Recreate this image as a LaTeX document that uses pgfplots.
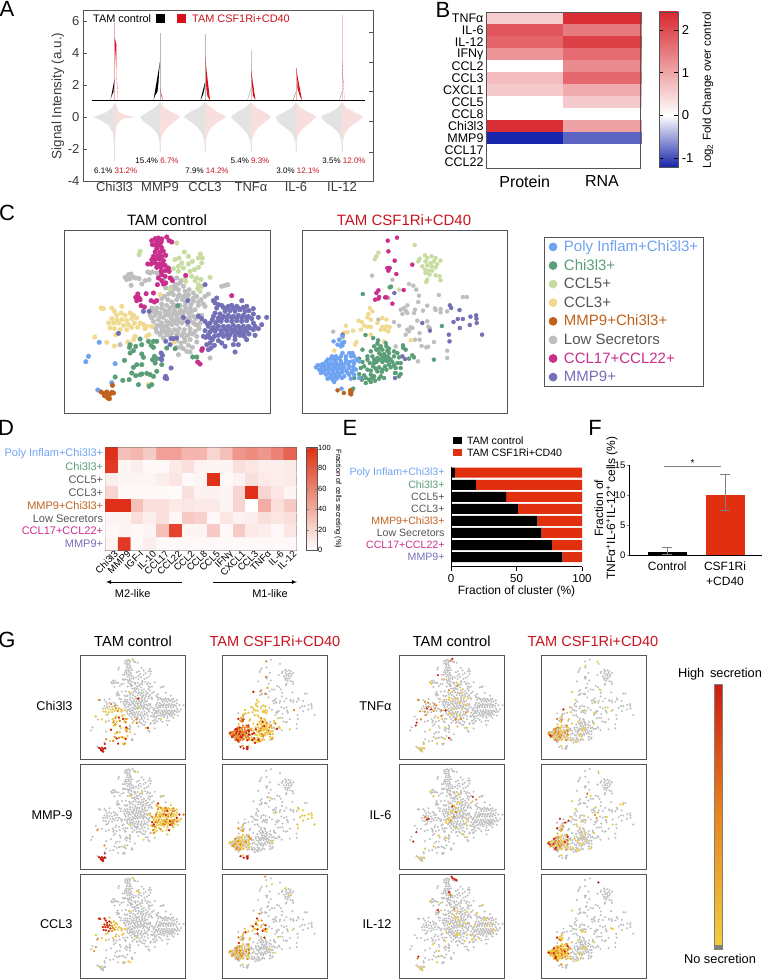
\documentclass[border=0pt]{standalone}
\usepackage{fontspec}
\setmainfont{Liberation Sans}
\usepackage{pgfplots}
\usepackage{pgfplotstable}
\pgfplotsset{compat=1.18}
\newcommand{\fs}[1]{\fontsize{#1}{#1}\selectfont}

\definecolor{cpoly}{HTML}{6FA3F2}
\definecolor{cchi}{HTML}{5A9E78}
\definecolor{cfive}{HTML}{C8DCA2}
\definecolor{cthree}{HTML}{F0DA90}
\definecolor{cmc}{HTML}{C0621E}
\definecolor{clow}{HTML}{BEBEBE}
\definecolor{cseven}{HTML}{C92E8C}
\definecolor{cmmp}{HTML}{7470B8}
\definecolor{tred}{HTML}{C8141E}
\definecolor{fred}{HTML}{E03010}
\definecolor{lgray}{HTML}{E3E3E3}
\definecolor{lpink}{HTML}{F9DEDE}
\definecolor{vred}{HTML}{D8101A}
\definecolor{frame}{HTML}{555555}
\definecolor{txt}{HTML}{555555}
\definecolor{hgold}{HTML}{F3CC3C}
\definecolor{horange}{HTML}{E8861E}
\definecolor{hred}{HTML}{CE1C10}

\pgfplotsset{
  colormap={bwr}{rgb255(0cm)=(24,36,170); rgb255(1.21cm)=(255,255,255); rgb255(3.63cm)=(216,40,48)},
  colormap={wr}{rgb255(0cm)=(255,255,255); rgb255(1cm)=(224,48,26)},
  panel/.style n args={4}{at={(#1pt,-#2pt)},anchor=north west,scale only axis,width=#3pt,height=#4pt,
    /pgf/number format/assume math mode=true,axis line style={draw=frame,line width=0.9pt}},
  dot/.style 2 args={only marks,mark=*,mark size=#2,color=#1,mark options={solid,draw=none,fill=#1},forget plot},
  tsne/.style={xmin=8,xmax=625,ymin=6,ymax=555,y dir=reverse,xtick=\empty,ytick=\empty},
}

% t-SNE positions, control
\pgfplotstableread[row sep=\\]{x y\\
270 38\\ 280 32\\ 290 30\\ 300 33\\ 315 27\\ 322 38\\ 330 42\\ 285 42\\ 298 42\\ 272 50\\ 282 52\\ 295 52\\ 300 60\\ 285 62\\ 280 72\\ 295 72\\
305 70\\ 275 85\\ 288 83\\ 300 85\\ 312 82\\ 270 95\\ 280 95\\ 292 93\\ 305 98\\ 258 108\\ 268 108\\ 280 105\\ 292 108\\ 302 105\\ 285 118\\ 298 118\\
310 112\\ 320 120\\ 310 128\\ 298 130\\ 322 130\\ 300 140\\ 290 150\\ 310 145\\ 325 150\\ 332 158\\ 300 158\\ 312 165\\ 305 168\\ 372 142\\ 253 197\\
287 170\\ 275 195\\ 228 198\\ 222 208\\ 232 210\\ 225 218\\ 235 215\\ 268 218\\ 278 222\\ 285 218\\ 238 233\\ 248 237\\ 510 203\\ 422 362\\ 420 367\\ 408 402\\ 415 408\\
}\cSeven
\pgfplotstableread[row sep=\\]{x y\\
190 148\\ 200 140\\ 208 138\\ 215 148\\ 205 152\\ 222 150\\ 232 152\\ 195 155\\ 208 172\\ 240 168\\ 250 158\\ 262 155\\ 258 132\\ 285 135\\ 272 132\\
345 170\\ 355 165\\ 365 175\\ 350 185\\ 340 182\\ 330 190\\ 320 198\\ 308 205\\ 300 212\\ 318 215\\ 335 200\\ 352 200\\ 370 190\\ 382 185\\ 395 195\\ 405 205\\
418 215\\ 430 205\\ 440 198\\ 425 228\\ 410 232\\ 395 220\\ 380 215\\ 362 215\\ 345 215\\ 330 222\\ 315 232\\ 300 228\\ 285 240\\ 275 250\\ 265 262\\ 280 262\\
295 255\\ 310 248\\ 325 240\\ 340 238\\ 355 232\\ 370 235\\ 385 240\\ 400 245\\ 380 255\\ 365 252\\ 350 255\\ 335 258\\ 320 262\\ 305 268\\ 290 275\\ 275 280\\
285 292\\ 300 285\\ 315 280\\ 330 275\\ 345 272\\ 360 268\\ 378 272\\ 395 265\\ 410 262\\ 300 300\\ 315 295\\ 330 290\\ 345 288\\ 360 285\\ 378 290\\ 395 285\\
410 295\\ 285 312\\ 295 320\\ 308 310\\ 322 305\\ 338 305\\ 352 302\\ 368 305\\ 385 302\\ 400 310\\ 412 302\\ 345 320\\ 360 322\\ 378 322\\ 392 318\\ 305 330\\
325 325\\ 345 338\\ 358 345\\ 370 340\\ 380 352\\ 392 358\\ 405 342\\ 365 362\\ 375 370\\ 385 372\\ 350 380\\ 445 390\\ 175 350\\ 480 175\\ 490 172\\ 498 170\\
330 150\\ 345 150\\ 358 158\\ 312 180\\ 265 135\\ 430 235\\ 305 158\\ 290 140\\ 270 240\\
350 205\\ 365 205\\ 380 200\\ 395 210\\ 410 222\\ 372 225\\ 388 230\\ 335 230\\ 322 250\\ 338 248\\ 355 245\\ 372 245\\ 390 250\\ 300 240\\ 285 252\\ 270 270\\ 295 265\\
312 258\\ 328 268\\ 345 262\\ 362 258\\ 385 265\\ 402 272\\ 420 262\\ 282 302\\ 292 292\\ 308 295\\ 322 285\\ 338 282\\ 352 278\\ 368 278\\ 385 278\\ 402 290\\ 415 285\\
300 312\\ 315 312\\ 330 315\\ 348 312\\ 365 315\\ 385 315\\ 405 325\\ 315 320\\ 368 330\\ 385 335\\ 358 358\\ 345 358\\ 328 178\\ 340 170\\ 370 205\\
}\cLow
\pgfplotstableread[row sep=\\]{x y\\
235 70\\ 232 80\\ 345 45\\ 340 95\\ 352 90\\ 368 72\\ 380 85\\ 360 105\\ 350 115\\ 335 122\\ 365 120\\ 380 108\\ 392 100\\ 410 90\\ 416 78\\ 422 90\\ 420 105\\
410 118\\ 398 125\\ 385 130\\ 370 150\\ 390 145\\ 405 150\\ 418 155\\ 445 148\\ 400 158\\ 410 170\\ 420 175\\ 408 182\\ 415 190\\ 372 160\\ 325 182\\ 350 130\\
}\cFive
\pgfplotstableread[row sep=\\]{x y\\
118 240\\ 125 242\\ 150 240\\ 158 250\\ 180 235\\ 165 262\\ 178 255\\ 190 262\\ 205 255\\ 215 262\\ 150 272\\ 165 275\\ 180 275\\ 195 278\\ 210 272\\ 225 270\\
140 285\\ 155 285\\ 170 285\\ 185 292\\ 200 290\\ 218 285\\ 235 285\\ 145 300\\ 158 302\\ 175 305\\ 195 305\\ 210 298\\ 228 298\\ 245 290\\ 255 295\\ 270 295\\
250 302\\ 162 320\\ 220 325\\ 215 335\\ 255 325\\ 262 320\\ 99 327\\ 135 343\\ 158 354\\ 198 342\\ 338 342\\ 295 200\\ 260 470\\
}\cThree
\pgfplotstableread[row sep=\\]{x y\\
465 210\\ 455 218\\ 460 225\\ 480 232\\ 470 230\\ 495 240\\ 510 232\\ 525 235\\ 540 218\\ 555 235\\ 575 242\\ 490 250\\ 505 248\\ 520 250\\ 535 245\\ 550 250\\
460 255\\ 475 258\\ 455 265\\ 470 270\\ 485 265\\ 500 262\\ 515 265\\ 530 262\\ 545 262\\ 560 265\\ 590 268\\ 615 268\\ 410 265\\ 420 272\\ 430 280\\ 445 285\\
462 285\\ 478 280\\ 495 278\\ 510 280\\ 525 278\\ 540 280\\ 555 278\\ 575 285\\ 440 295\\ 455 298\\ 470 295\\ 485 295\\ 500 295\\ 515 292\\ 530 295\\ 545 295\\
560 295\\ 600 290\\ 590 302\\ 575 305\\ 430 308\\ 445 312\\ 460 310\\ 478 308\\ 495 310\\ 510 308\\ 525 312\\ 540 310\\ 555 310\\ 470 322\\ 485 325\\ 505 320\\
520 325\\ 535 322\\ 548 325\\ 580 322\\ 425 325\\ 432 328\\ 470 338\\ 445 345\\ 435 350\\ 458 352\\ 448 360\\ 440 365\\ 490 355\\ 515 350\\ 530 350\\ 555 335\\ 520 372\\
465 240\\ 485 238\\ 500 235\\ 515 240\\ 530 240\\ 545 238\\ 562 248\\ 575 258\\ 480 272\\ 495 268\\ 510 270\\ 525 270\\ 540 270\\ 555 270\\ 570 272\\ 452 275\\ 468 278\\ 438 290\\
450 305\\ 465 302\\ 490 302\\ 505 302\\ 520 302\\ 535 303\\ 550 303\\ 565 300\\ 580 295\\ 445 330\\ 458 325\\ 480 315\\ 495 318\\ 515 312\\ 530 315\\ 545 315\\ 562 318\\ 500 330\\ 440 320\\ 452 335\\ 520 335\\ 480 345\\
}\cMmp
\pgfplotstableread[row sep=\\]{x y\\
378 218\\ 430 170\\ 365 268\\ 378 282\\ 170 316\\ 245 250\\ 262 250\\ 345 330\\ 335 332\\ 328 332\\ 312 340\\ 325 350\\ 298 375\\ 302 382\\ 297 392\\ 328 420\\ 312 445\\ 315 452\\ 310 450\\ 300 395\\
}\cMmpB
\pgfplotstableread[row sep=\\]{x y\\
348 233\\ 205 350\\ 203 358\\ 222 355\\ 240 350\\ 235 333\\ 215 368\\ 205 375\\ 240 378\\ 245 388\\ 260 340\\ 268 352\\ 275 340\\ 285 340\\ 275 358\\ 278 385\\ 285 392\\
272 395\\ 280 405\\ 300 410\\ 188 397\\ 240 410\\ 225 410\\ 215 418\\ 210 435\\ 222 443\\ 235 440\\ 240 438\\ 255 436\\ 265 440\\ 275 445\\ 285 430\\ 160 447\\ 183 457\\
202 455\\ 230 470\\ 270 470\\ 315 360\\ 340 362\\ 393 387\\ 405 387\\ 262 475\\
}\cChi
\pgfplotstableread[row sep=\\]{x y\\
112 343\\ 80 385\\ 72 401\\ 160 407\\ 150 464\\ 108 486\\
}\cPoly
\pgfplotstableread[row sep=\\]{x y\\
118 492\\ 127 497\\ 135 492\\ 150 493\\ 155 495\\ 128 503\\ 135 505\\ 143 500\\ 138 510\\ 143 512\\ 152 472\\
}\cMc

% t-SNE positions, CSF1Ri+CD40
\pgfplotstableread[row sep=\\]{x y\\
266 38\\ 294 29\\ 268 70\\ 287 98\\ 340 110\\ 265 120\\ 272 120\\ 268 128\\ 292 138\\ 238 187\\ 232 195\\ 240 207\\ 228 215\\ 238 212\\ 258 208\\ 262 208\\ 280 227\\ 314 186\\
}\tSeven
\pgfplotstableread[row sep=\\]{x y\\
347 51\\ 238 74\\ 232 85\\ 227 94\\ 300 185\\ 378 82\\ 362 92\\ 358 100\\ 385 90\\ 398 85\\ 410 90\\ 425 98\\ 415 108\\ 405 100\\ 395 105\\ 380 100\\ 370 115\\ 385 112\\
398 115\\ 410 118\\ 378 125\\ 390 128\\ 380 135\\ 392 140\\ 410 142\\ 422 145\\ 385 155\\ 382 162\\ 425 157\\ 400 128\\
}\tFive
\pgfplotstableread[row sep=\\]{x y\\
219 143\\ 280 155\\ 330 168\\ 343 173\\ 352 185\\ 360 203\\ 420 201\\ 492 207\\ 504 207\\ 268 210\\ 358 222\\ 325 232\\ 315 240\\ 305 245\\ 320 248\\ 310 258\\ 325 255\\
348 245\\ 345 255\\ 372 248\\ 385 233\\ 408 241\\ 410 246\\ 425 243\\ 425 253\\ 445 250\\ 238 275\\ 285 282\\ 300 293\\ 355 278\\ 385 280\\ 388 296\\ 335 298\\ 325 305\\
340 300\\ 320 320\\ 362 315\\ 392 300\\ 348 335\\ 362 335\\ 405 342\\ 368 354\\ 382 358\\ 388 356\\ 445 368\\ 445 390\\ 357 400\\ 290 355\\ 102 311\\ 330 310\\
}\tLow
\pgfplotstableread[row sep=\\]{x y\\
212 240\\ 220 250\\ 208 258\\ 205 268\\ 215 275\\ 178 278\\ 188 282\\ 195 293\\ 205 296\\ 215 297\\ 185 305\\ 250 270\\ 262 275\\ 235 285\\ 250 297\\ 262 295\\ 272 297\\
258 305\\ 245 305\\ 268 310\\ 140 293\\ 145 312\\ 135 314\\ 162 308\\ 215 320\\ 172 342\\ 168 350\\ 255 340\\ 335 337\\ 130 330\\ 105 368\\
}\tThree
\pgfplotstableread[row sep=\\]{x y\\
453 232\\ 457 240\\ 482 246\\ 515 266\\ 532 262\\ 533 272\\ 534 285\\ 477 273\\ 492 273\\ 464 282\\ 513 291\\ 483 300\\ 550 320\\ 450 320\\ 452 340\\ 370 285\\ 393 308\\ 286 195\\ 310 385\\ 318 393\\ 288 450\\ 130 320\\
}\tMmp
\pgfplotstableread[row sep=\\]{x y\\
191 198\\ 272 178\\ 276 176\\ 429 294\\ 199 321\\ 222 330\\ 237 337\\ 235 347\\ 225 355\\ 245 355\\ 260 345\\ 262 355\\ 270 362\\ 250 365\\ 232 365\\ 215 370\\ 190 365\\ 240 375\\
255 378\\ 270 375\\ 285 370\\ 295 375\\ 312 352\\ 313 360\\ 320 365\\ 340 382\\ 345 388\\ 330 392\\ 405 395\\ 220 385\\ 235 390\\ 250 390\\ 268 388\\ 285 385\\ 300 388\\ 180 392\\
205 395\\ 190 402\\ 212 405\\ 232 402\\ 250 402\\ 265 400\\ 280 402\\ 295 405\\ 305 405\\ 185 420\\ 205 425\\ 222 415\\ 240 418\\ 258 415\\ 275 418\\ 290 420\\ 305 420\\ 180 438\\
195 442\\ 215 440\\ 235 430\\ 248 432\\ 262 425\\ 288 435\\ 300 445\\ 305 438\\ 188 455\\ 200 465\\ 215 462\\ 210 455\\ 228 458\\ 240 452\\ 255 450\\ 165 450\\ 162 482\\ 290 435\\ 185 450\\
205 385\\ 225 395\\ 245 380\\ 260 385\\ 275 395\\ 225 405\\ 240 395\\ 258 395\\ 195 415\\ 215 428\\ 230 422\\ 250 425\\ 270 410\\ 285 412\\ 225 445\\ 245 445\\ 200 450\\ 220 450\\ 265 368\\ 240 362\\
}\tChi
\pgfplotstableread[row sep=\\]{x y\\
103 340\\ 120 335\\ 130 325\\ 115 350\\ 128 345\\ 135 342\\ 125 355\\ 130 352\\ 95 392\\ 110 390\\ 130 375\\ 150 375\\ 160 375\\ 155 385\\ 165 385\\ 80 402\\ 95 405\\ 110 402\\
125 400\\ 140 395\\ 160 400\\ 172 395\\ 62 412\\ 75 415\\ 90 415\\ 105 415\\ 118 412\\ 132 410\\ 148 412\\ 162 415\\ 50 418\\ 60 425\\ 75 428\\ 88 428\\ 102 428\\ 115 425\\ 128 425\\
142 428\\ 160 428\\ 170 425\\ 65 435\\ 80 440\\ 95 442\\ 108 440\\ 122 438\\ 150 440\\ 165 440\\ 85 452\\ 100 455\\ 112 452\\ 128 450\\ 105 462\\ 155 452\\ 180 450\\ 127 482\\ 180 400\\
85 395\\ 105 395\\ 120 392\\ 140 385\\ 165 405\\ 70 408\\ 85 408\\ 100 408\\ 112 408\\ 125 408\\ 140 405\\ 150 402\\ 55 412\\ 68 422\\ 82 422\\ 95 422\\ 108 420\\ 122 418\\ 135 418\\
150 420\\ 165 422\\ 72 432\\ 88 435\\ 102 435\\ 115 432\\ 130 432\\ 145 435\\ 158 432\\ 92 448\\ 105 448\\ 118 445\\ 135 445\\ 110 385\\ 98 385\\ 125 385\\
}\tPoly
\pgfplotstableread[row sep=\\]{x y\\
115 487\\ 134 495\\ 153 487\\ 157 491\\ 153 497\\ 156 499\\
}\tMc

% half violin: centre, side, colour, rows of y and half width
\newcommand{\vio}[4]{\addplot[fill=#3,draw=none,forget plot] table[row sep=\\,x expr=#1+#2*\thisrow{w},y=y]{y w\\ #4} -- cycle;}
% thin tail of a violin
\newcommand{\tail}[4]{\addplot[draw=#4,line width=0.5pt,forget plot] coordinates {(#1,#2) (#1,#3)};}

\newcommand{\gbaseC}{%
  \addplot[dot={clow}{0.78}] table {\cLow};\addplot[dot={clow}{0.78}] table {\cSeven};
  \addplot[dot={clow}{0.78}] table {\cFive};\addplot[dot={clow}{0.78}] table {\cThree};
  \addplot[dot={clow}{0.78}] table {\cMmp};\addplot[dot={clow}{0.78}] table {\cMmpB};
  \addplot[dot={clow}{0.78}] table {\cChi};\addplot[dot={clow}{0.78}] table {\cPoly};
  \addplot[dot={clow}{0.78}] table {\cMc};}
\newcommand{\gbaseT}{%
  \addplot[dot={clow}{0.78}] table {\tLow};\addplot[dot={clow}{0.78}] table {\tSeven};
  \addplot[dot={clow}{0.78}] table {\tFive};\addplot[dot={clow}{0.78}] table {\tThree};
  \addplot[dot={clow}{0.78}] table {\tMmp};\addplot[dot={clow}{0.78}] table {\tChi};
  \addplot[dot={clow}{0.78}] table {\tPoly};\addplot[dot={clow}{0.78}] table {\tMc};}
\newcommand{\gpanel}[4]{\begin{axis}[panel={#1}{#2}{105}{104.5},tsne]#3 #4\end{axis}}
\newcommand{\hi}[3][]{\addplot[dot={#2}{0.85},#1] table {#3};}

\begin{document}
\begin{tikzpicture}
\path[use as bounding box] (0pt,0pt) rectangle (764pt,-979pt);

% A
\begin{axis}[panel={83}{10.5}{290}{170.5},xmin=83,xmax=373,ymin=-4,ymax=6.69,
  xtick={114.5,160,205,251,296,342},xticklabels={Chi3l3,MMP9,CCL3,TNFα,IL-6,IL-12},
  ytick={-4,-2,0,2,4,6},tick pos=left,x tick style={draw=none},y tick style={draw=frame},
  tick label style={text=txt!70!black},xticklabel style={font=\fs{13},yshift=2pt},yticklabel style={font=\fs{13}},
  clip=false]
\tail{114.5}{-2.8}{0.9}{lgray}\tail{160}{-2.2}{0.9}{lgray}\tail{205}{-2.2}{0.9}{lgray}\tail{251}{-2.2}{0.9}{lgray}\tail{296}{-2.2}{0.9}{lgray}\tail{342}{-2.2}{0.9}{lgray}
\vio{114.5}{-1}{lgray}{0.95 0\\ 0.6 2\\ 0.35 7\\ 0.15 15\\ 0 21\\ -0.15 15\\ -0.5 6\\ -1 1.5\\ -1.7 0.5\\ -2.8 0\\}
\vio{114.5}{1}{lpink}{0.95 0\\ 0.6 3\\ 0.3 4.5\\ 0.1 13\\ 0 21\\ -0.1 8\\ -0.5 2\\ -1.5 0.5\\ -2.8 0\\}
\vio{160}{-1}{lgray}{0.95 0\\ 0.6 5\\ 0.3 13\\ 0.1 18\\ 0 20\\ -0.3 16\\ -0.6 9\\ -1 3\\ -1.5 0.6\\ -2.2 0\\}
\vio{160}{1}{lpink}{0.95 0\\ 0.6 4\\ 0.3 12\\ 0.1 19\\ 0 20\\ -0.3 14\\ -0.6 8\\ -1 3\\ -1.5 0.6\\ -2.2 0\\}
\vio{205}{-1}{lgray}{0.95 0\\ 0.6 6\\ 0.3 16\\ 0.1 20\\ 0 21\\ -0.3 14\\ -0.6 8\\ -1 3\\ -1.5 0.6\\ -2.2 0\\}
\vio{205}{1}{lpink}{0.95 0\\ 0.6 6\\ 0.3 13\\ 0.1 20\\ 0 21\\ -0.3 13\\ -0.6 7\\ -1 3\\ -1.5 0.6\\ -2.2 0\\}
\vio{251}{-1}{lgray}{0.95 0\\ 0.6 6\\ 0.3 14\\ 0.1 19\\ 0 20\\ -0.3 15\\ -0.6 10\\ -1 4\\ -1.5 0.6\\ -2.2 0\\}
\vio{251}{1}{lpink}{0.95 0\\ 0.6 5\\ 0.3 14\\ 0.1 19\\ 0 20\\ -0.3 14\\ -0.6 8\\ -1 3\\ -1.5 0.6\\ -2.2 0\\}
\vio{296}{-1}{lgray}{0.95 0\\ 0.6 4\\ 0.3 12\\ 0.1 19\\ 0 20\\ -0.3 18\\ -0.6 12\\ -1 4\\ -1.5 0.6\\ -2.2 0\\}
\vio{296}{1}{lpink}{0.95 0\\ 0.6 4\\ 0.3 13\\ 0.1 19\\ 0 20\\ -0.3 15\\ -0.6 9\\ -1 3\\ -1.5 0.6\\ -2.2 0\\}
\vio{342}{-1}{lgray}{0.95 0\\ 0.6 4\\ 0.3 12\\ 0.1 20\\ 0 21\\ -0.3 17\\ -0.6 10\\ -1 3\\ -1.5 0.6\\ -2.2 0\\}
\vio{342}{1}{lpink}{0.95 0\\ 0.6 4\\ 0.3 13\\ 0.1 20\\ 0 21\\ -0.3 15\\ -0.6 8\\ -1 3\\ -1.5 0.6\\ -2.2 0\\}
\tail{114.5}{1.07}{5.9}{vred!35}\tail{160}{1.07}{5.3}{gray!55}\tail{205}{1.07}{5.2}{gray!55}\tail{251}{1.07}{4.2}{gray!45}\tail{296}{1.07}{3.1}{vred!35}\tail{342}{1.07}{6.4}{vred!25}
\vio{114.5}{-1}{black}{1.07 4\\ 1.3 3\\ 1.6 1\\ 2.2 0.2\\ 2.4 0\\}
\vio{114.5}{1}{vred}{1.07 3.5\\ 2 2.5\\ 3 1.8\\ 4.6 1.8\\ 5 0\\}
\vio{160}{-1}{black}{1.07 6.5\\ 1.35 5\\ 1.6 2.5\\ 2.2 1.5\\ 2.9 0.8\\ 3.5 0\\}
\vio{160}{1}{vred}{1.07 3\\ 1.3 1.5\\ 1.8 0\\}
\vio{205}{-1}{black}{1.07 4.5\\ 1.4 2\\ 1.8 0.5\\ 2.2 0\\}
\vio{205}{1}{vred}{1.07 5\\ 1.3 2.5\\ 1.8 1.3\\ 3 0.8\\ 3.8 0\\}
\vio{251}{-1}{black}{1.07 3.5\\ 1.4 2\\ 1.8 0\\}
\vio{251}{1}{vred}{1.07 4.5\\ 1.35 2\\ 2 1\\ 3 0\\}
\vio{296}{-1}{black}{1.07 3\\ 1.3 1.5\\ 1.6 0\\}
\vio{296}{1}{vred}{1.07 6\\ 1.3 4\\ 1.8 1.5\\ 2.4 1.2\\ 3.1 0\\}
\vio{342}{-1}{black}{1.07 2.5\\ 1.3 1.5\\ 1.6 0\\}
\vio{342}{1}{vred}{1.07 2.5\\ 1.7 1.8\\ 2.5 0.8\\ 3.5 0\\}
\addplot[black,line width=0.9pt,forget plot] coordinates {(91.7,1.07) (365,1.07)};
\end{axis}
\begin{axis}[panel={83}{10.5}{290}{170.5},xmin=83,xmax=373,ymin=-4,ymax=6.69,hide x axis,axis y line*=right,
  ytick={5.33,3.44,1.62,-0.27,-2.16},yticklabels={},tick align=inside,y tick style={draw=frame}]
\end{axis}

% B: cells are rectangular scatter marks, one per value
\begin{axis}[panel={486}{12}{154.7}{156.3},xmin=-0.5,xmax=1.5,ymin=-0.5,ymax=12.5,y dir=reverse,
  colormap name=bwr,point meta min=-1.21,point meta max=2.42,
  xtick={0,1},xticklabels={Protein,RNA},ytick={0,...,12},
  yticklabels={TNFα,IL-6,IL-12,IFNγ,CCL2,CCL3,CXCL1,CCL5,CCL8,Chi3l3,MMP9,CCL17,CCL22},
  major tick length=0pt,xticklabel style={font=\fs{16},yshift=-4pt},yticklabel style={font=\fs{12.5},xshift=1pt},
  axis on top]
\addplot[scatter,only marks,mark=square*,mark size=6.03pt,mark options={xscale=6.42},
  scatter/use mapped color={draw=mapped color,fill=mapped color},point meta=explicit] table[row sep=\\,meta=z]{x y z\\
0 0 0.55\\ 1 0 2.35\\ 0 1 1.9\\ 1 1 1.5\\ 0 2 1.75\\ 1 2 2.15\\ 0 3 1.2\\ 1 3 1.65\\ 0 4 0\\ 1 4 1.3\\ 0 5 0.75\\ 1 5 1.7\\ 0 6 0.6\\ 1 6 0.95\\
0 7 0\\ 1 7 0.6\\ 0 8 0\\ 1 8 0\\ 0 9 2.35\\ 1 9 1.05\\ 0 10 -1.2\\ 1 10 -0.85\\ 0 11 0\\ 1 11 0\\ 0 12 0\\ 1 12 0\\};
\end{axis}
\draw[frame,line width=0.9pt] (486pt,-12pt) rectangle (640.7pt,-168.3pt);
\shade[bottom color=white,top color={rgb,255:red,216;green,40;blue,48}] (659pt,-115.3pt) rectangle (678.3pt,-12pt);
\shade[bottom color={rgb,255:red,24;green,36;blue,170},top color=white] (659pt,-167pt) rectangle (678.3pt,-115.3pt);
\begin{axis}[panel={659}{12}{19.3}{155},xmin=0,xmax=1,ymin=-1.21,ymax=2.42,xtick=\empty,ytick={-1,0,1,2},
  yticklabel pos=right,tick align=inside,yticklabel style={font=\fs{13}},y tick style={draw=black,line width=0.8pt}]
\end{axis}

% C
\begin{axis}[panel={64.5}{230}{205.5}{183},tsne]
\addplot[dot={clow}{2.3}] table {\cLow};
\addplot[dot={cfive}{2.3}] table {\cFive};
\addplot[dot={cthree}{2.3}] table {\cThree};
\addplot[dot={cseven}{2.3}] table {\cSeven};
\addplot[dot={cmmp}{2.3}] table {\cMmp};
\addplot[dot={cmmp}{2.3}] table {\cMmpB};
\addplot[dot={cchi}{2.3}] table {\cChi};
\addplot[dot={cpoly}{2.3}] table {\cPoly};
\addplot[dot={cmc}{2.3}] table {\cMc};
\end{axis}
\begin{axis}[panel={302}{230}{205}{183},tsne,clip mode=individual,
  legend style={at={(1.179,0.962)},anchor=north west,draw=frame,line width=0.9pt,font=\fs{15},
    inner xsep=5pt,inner ysep=2.5pt,row sep=4.6pt,column sep=7pt,nodes={inner sep=0pt,text height=11.5pt,text depth=2.5pt}},
  legend cell align=left]
\addplot[dot={clow}{2}] table {\tLow};
\addplot[dot={cfive}{2}] table {\tFive};
\addplot[dot={cthree}{2}] table {\tThree};
\addplot[dot={cseven}{2}] table {\tSeven};
\addplot[dot={cmmp}{2}] table {\tMmp};
\addplot[dot={cchi}{2}] table {\tChi};
\addplot[dot={cpoly}{2}] table {\tPoly};
\addplot[dot={cmc}{2}] table {\tMc};
\addlegendimage{only marks,mark=*,mark size=3.9,cpoly,mark options={draw=none,fill=cpoly}}\addlegendentry{\textcolor{cpoly}{Poly Inflam+Chi3l3+}}
\addlegendimage{only marks,mark=*,mark size=3.9,cchi,mark options={draw=none,fill=cchi}}\addlegendentry{\textcolor{cchi}{Chi3l3+}}
\addlegendimage{only marks,mark=*,mark size=3.9,cfive,mark options={draw=none,fill=cfive}}\addlegendentry{\textcolor{txt}{CCL5+}}
\addlegendimage{only marks,mark=*,mark size=3.9,cthree,mark options={draw=none,fill=cthree}}\addlegendentry{\textcolor{txt}{CCL3+}}
\addlegendimage{only marks,mark=*,mark size=3.9,cmc,mark options={draw=none,fill=cmc}}\addlegendentry{\textcolor{cmc}{MMP9+Chi3l3+}}
\addlegendimage{only marks,mark=*,mark size=3.9,clow,mark options={draw=none,fill=clow}}\addlegendentry{\textcolor{txt}{Low Secretors}}
\addlegendimage{only marks,mark=*,mark size=3.9,cseven,mark options={draw=none,fill=cseven}}\addlegendentry{\textcolor{cseven}{CCL17+CCL22+}}
\addlegendimage{only marks,mark=*,mark size=3.9,cmmp,mark options={draw=none,fill=cmmp}}\addlegendentry{\textcolor{cmmp}{MMP9+}}
\end{axis}

% D
\begin{axis}[panel={105.3}{447.7}{191.4}{102.6},xmin=-0.5,xmax=14.5,ymin=-0.5,ymax=7.5,y dir=reverse,
  colormap name=wr,point meta min=0,point meta max=100,major tick length=0pt,
  xtick={0,...,14},xticklabels={Chi3l3,MMP9,IGF-I,IL-10,CCL17,CCL22,CCL2,CCL8,CCL5,IFNγ,CXCL1,CCL3,TNFα,IL-6,IL-12},
  xticklabel style={font=\fs{9.6},rotate=45,anchor=north east,inner sep=1pt,xshift=3pt},
  ytick={0,...,7},yticklabel style={font=\fs{11},inner xsep=2pt},
  yticklabels={\textcolor{cpoly}{Poly Inflam+Chi3l3+},\textcolor{cchi}{Chi3l3+},\textcolor{txt}{CCL5+},\textcolor{txt}{CCL3+},\textcolor{cmc}{MMP9+Chi3l3+},\textcolor{txt}{Low Secretors},\textcolor{cseven}{CCL17+CCL22+},\textcolor{cmmp}{MMP9+}}]
\addplot[matrix plot*,mesh/cols=15,point meta=explicit] table[row sep=\\,x expr={mod(\coordindex,15)},y expr={floor(\coordindex/15)},meta=z]{z\\
100\\ 30\\ 35\\ 25\\ 45\\ 45\\ 35\\ 35\\ 20\\ 30\\ 50\\ 55\\ 50\\ 60\\ 75\\
95\\ 5\\ 8\\ 3\\ 3\\ 10\\ 15\\ 6\\ 5\\ 5\\ 15\\ 12\\ 8\\ 8\\ 10\\
8\\ 5\\ 5\\ 5\\ 8\\ 12\\ 3\\ 5\\ 100\\ 3\\ 6\\ 15\\ 10\\ 8\\ 10\\
20\\ 3\\ 3\\ 3\\ 3\\ 2\\ 15\\ 6\\ 6\\ 5\\ 20\\ 100\\ 20\\ 12\\ 5\\
100\\ 100\\ 30\\ 15\\ 15\\ 10\\ 12\\ 10\\ 10\\ 5\\ 20\\ 0\\ 40\\ 15\\ 25\\
5\\ 5\\ 15\\ 8\\ 15\\ 4\\ 25\\ 22\\ 3\\ 12\\ 6\\ 8\\ 15\\ 12\\ 15\\
3\\ 5\\ 3\\ 5\\ 30\\ 90\\ 5\\ 5\\ 25\\ 3\\ 25\\ 10\\ 8\\ 3\\ 12\\
5\\ 95\\ 3\\ 8\\ 3\\ 3\\ 3\\ 3\\ 3\\ 3\\ 3\\ 3\\ 3\\ 3\\ 3\\};
\end{axis}
\shade[bottom color=white,top color=fred] (306.7pt,-550.3pt) rectangle (317pt,-447.7pt);
\begin{axis}[panel={306.7}{447.7}{10.3}{102.6},xmin=0,xmax=1,ymin=0,ymax=100,xtick=\empty,ytick={0,20,...,100},
  yticklabel pos=right,tick align=inside,major tick length=2pt,yticklabel style={font=\fs{7.5},inner xsep=1pt}]
\end{axis}

% E
\begin{axis}[panel={451}{466.7}{131}{100},xmin=0,xmax=100,ymin=-0.8,ymax=7.5,xbar stacked,bar width=10pt,
  axis x line*=bottom,axis y line*=left,xtick={0,50,100},xticklabel style={font=\fs{11.5}},
  axis line style={draw=black,line width=0.8pt},tick align=outside,x tick style={draw=black},
  ytick={0,...,7},y tick style={draw=none},yticklabel style={font=\fs{10.6},inner xsep=2pt},
  yticklabels={\textcolor{cmmp}{MMP9+},\textcolor{cseven}{CCL17+CCL22+},\textcolor{txt}{Low Secretors},\textcolor{cmc}{MMP9+Chi3l3+},\textcolor{txt}{CCL3+},\textcolor{txt}{CCL5+},\textcolor{cchi}{Chi3l3+},\textcolor{cpoly}{Poly Inflam+Chi3l3+}},
  xlabel={Fraction of cluster (\%)},xlabel style={font=\fs{12},yshift=4pt}]
\addplot[fill=black,draw=none] coordinates {(85,0) (77,1) (69,2) (66,3) (51,4) (42,5) (19,6) (3,7)};
\addplot[fill=fred,draw=none] coordinates {(15,0) (23,1) (31,2) (34,3) (49,4) (58,5) (81,6) (97,7)};
\end{axis}

% F
\begin{axis}[panel={629}{465}{133}{90},xmin=629,xmax=762,ymin=0,ymax=15,axis x line*=bottom,axis y line*=left,
  axis line style={draw=black,line width=0.9pt},x tick style={draw=none},tick pos=left,
  xtick={667.3,725},xticklabels={Control,CSF1Ri\\+CD40},xticklabel style={align=center,font=\fontsize{12}{15}\selectfont,yshift=-1pt},
  ytick={0,5,10,15},yticklabel style={font=\fs{9.5},inner xsep=1pt},major tick length=2.5pt,tick align=outside,
  ybar,bar width=39pt,bar shift=0pt]
\addplot[fill=black,draw=none,error bars/.cd,y dir=both,y explicit,error bar style={draw=gray,line width=0.7pt},error mark options={draw=gray,rotate=90,mark size=5pt}]
  coordinates {(667.3,0.5) +=(0,0.8) -=(0,0.4)};
\addplot[fill=fred,draw=none,error bars/.cd,y dir=both,y explicit,error bar style={draw=gray,line width=0.7pt},error mark options={draw=gray,rotate=90,mark size=5pt}]
  coordinates {(725,10) +=(0,3.4) -=(0,2.5)};
\end{axis}

% G
\gpanel{80.3}{655.3}{\gbaseC}{%
  \hi{hgold}{\cChi}\hi[each nth point=2]{horange}{\cChi}\hi[each nth point=5]{hred}{\cChi}
  \hi[skip coords between index={0}{18}]{hgold}{\cThree}\hi[each nth point=7]{horange}{\cThree}\hi{hred}{\cMc}
  \addplot[dot={hgold}{0.85}] coordinates {(320,30) (350,280) (480,340)};}
\gpanel{222.3}{655.3}{\gbaseT}{%
  \hi{horange}{\tPoly}\hi[each nth point=4]{hred}{\tPoly}\hi{hgold}{\tChi}\hi[each nth point=3]{horange}{\tChi}\hi[each nth point=9]{hred}{\tChi}
  \hi{hgold}{\tThree}\hi[each nth point=5]{horange}{\tSeven}\hi{hred}{\tMc}}
\gpanel{80.3}{764.7}{\gbaseC}{%
  \hi{hgold}{\cMmp}\hi[each nth point=3]{horange}{\cMmp}\hi[each nth point=13]{hred}{\cMmp}\hi{hred}{\cMc}
  \addplot[dot={hgold}{0.85}] coordinates {(330,45) (300,170) (370,150) (480,170) (300,320) (380,400) (270,430)};
  \addplot[dot={horange}{0.85}] coordinates {(108,350) (150,430)};}
\gpanel{222.3}{764.7}{\gbaseT}{%
  \hi[each nth point=2]{hgold}{\tPoly}\hi[each nth point=7]{horange}{\tPoly}\hi[skip coords between index={15}{22}]{hgold}{\tMmp}\hi{hred}{\tMc}
  \addplot[dot={hgold}{0.85}] coordinates {(290,180) (320,260) (300,420) (300,410)};}
\gpanel{80.3}{874}{\gbaseC}{%
  \hi{hgold}{\cThree}
  \addplot[dot={hred}{0.85}] coordinates {(118,240) (125,242) (150,240) (158,250) (165,262) (178,255) (150,272) (165,275) (180,275) (140,285) (155,285) (170,285) (185,292) (145,300) (158,302) (175,305)};
  \addplot[dot={horange}{0.85}] coordinates {(190,262) (195,278) (200,290) (195,305) (210,298) (108,350) (100,390) (90,410)};
  \addplot[dot={hgold}{0.85}] coordinates {(320,30) (340,95) (350,100) (130,495) (200,560) (290,465) (300,470)};}
\gpanel{222.3}{874}{\gbaseT}{%
  \hi{hgold}{\tThree}\hi[each nth point=3]{hred}{\tThree}\hi[each nth point=2]{hgold}{\tPoly}\hi[each nth point=4]{horange}{\tPoly}
  \addplot[dot={hgold}{0.85}] coordinates {(300,60) (380,80) (400,115) (320,420) (290,400) (420,300)};
  \addplot[dot={horange}{0.85}] coordinates {(260,20) (225,215) (240,250)};}
\gpanel{399.3}{655.3}{\gbaseC}{%
  \hi[each nth point=7]{hgold}{\cLow}\hi[each nth point=3]{horange}{\cThree}\hi[each nth point=5]{hgold}{\cChi}\hi[each nth point=2]{hgold}{\cMc}
  \addplot[dot={hred}{0.85}] coordinates {(320,25) (235,110) (170,285) (195,290) (110,360) (105,375) (300,440) (280,295)};
  \addplot[dot={horange}{0.85}] coordinates {(300,190) (370,340) (340,345) (400,305) (130,300) (350,165) (310,35)};}
\gpanel{541}{655.3}{\gbaseT}{%
  \hi[each nth point=2]{hgold}{\tPoly}\hi[each nth point=4]{horange}{\tPoly}\hi[each nth point=8]{hgold}{\tChi}\hi[each nth point=5]{hgold}{\tThree}
  \addplot[dot={hred}{0.85}] coordinates {(60,425) (140,290) (65,430)};
  \addplot[dot={hgold}{0.85}] coordinates {(270,60) (340,40) (360,190) (330,250) (400,280) (420,300) (320,310)};}
\gpanel{399.3}{764.7}{\gbaseC}{%
  \hi[each nth point=8]{hgold}{\cLow}\hi[each nth point=8]{hgold}{\cChi}\hi[each nth point=4]{hgold}{\cMc}
  \addplot[dot={hred}{0.85}] coordinates {(320,225) (180,290) (170,295) (108,360) (90,410) (440,175)};
  \addplot[dot={horange}{0.85}] coordinates {(340,255) (330,280) (310,300) (460,190) (160,280)};}
\gpanel{541}{764.7}{\gbaseT}{%
  \hi[each nth point=2]{hgold}{\tPoly}\hi[each nth point=4]{horange}{\tPoly}\hi[each nth point=14]{hred}{\tPoly}\hi[each nth point=6]{hgold}{\tChi}\hi[each nth point=6]{hgold}{\tThree}
  \addplot[dot={hred}{0.85}] coordinates {(50,420) (60,425) (120,290) (170,300) (150,310)};
  \addplot[dot={hgold}{0.85}] coordinates {(345,40) (300,170) (330,230) (340,260) (475,215) (490,215) (430,320) (395,280)};
  \addplot[dot={horange}{0.85}] coordinates {(325,270) (335,285) (280,160) (140,330)};}
\gpanel{399.3}{874}{\gbaseC}{%
  \hi[each nth point=10]{hgold}{\cLow}\hi[each nth point=12]{hgold}{\cMmp}\hi[each nth point=7]{hgold}{\cChi}\hi[each nth point=3]{hgold}{\cMc}
  \addplot[dot={hred}{0.85}] coordinates {(315,20) (322,28) (330,32) (338,36) (345,38) (300,100) (235,195) (120,440)};
  \addplot[dot={horange}{0.85}] coordinates {(305,110) (310,120) (240,205) (115,450) (330,190)};
  \addplot[dot={hgold}{0.85}] coordinates {(345,320) (340,325) (350,330) (355,320)};}
\gpanel{541}{874}{\gbaseT}{%
  \hi{hgold}{\tPoly}\hi[each nth point=3]{horange}{\tPoly}\hi[each nth point=14]{hred}{\tPoly}\hi[each nth point=8]{hgold}{\tChi}
  \addplot[dot={hred}{0.85}] coordinates {(345,50) (55,420)};
  \addplot[dot={hgold}{0.85}] coordinates {(240,300) (250,310) (270,310) (420,290) (430,295)};}

\shade[bottom color=hgold,top color=hred,middle color=horange] (714.3pt,-945pt) rectangle (722.7pt,-684.3pt);
\fill[gray] (714.3pt,-949.3pt) rectangle (722.7pt,-945pt);
\draw[gray,line width=0.5pt] (714.3pt,-949.3pt) rectangle (722.7pt,-684.3pt);

\begin{scope}[x=1pt,y=-1pt]
% panel letters
\node[font=\fs{22}] at (7,9) {A};
\node[font=\fs{22}] at (443,10) {B};
\node[font=\fs{22}] at (7,213) {C};
\node[font=\fs{22}] at (6,428) {D};
\node[font=\fs{22}] at (350,428) {E};
\node[font=\fs{22}] at (595,428) {F};
\node[font=\fs{22}] at (7,640) {G};
% A texts
\node[rotate=90,font=\fs{13.5},text=txt!70!black] at (58,96) {Signal Intensity (a.u.)};
\node[anchor=west,inner sep=0pt,font=\fs{10.9}] at (93,19) {TAM control};
\fill[black] (156,14.5) rectangle (165,23.5);
\fill[vred] (177,14.5) rectangle (186,23.5);
\node[anchor=west,inner sep=0pt,font=\fs{10.9},text=tred] at (192,19) {TAM CSF1Ri+CD40};
\node[font=\fs{8}] at (115.7,171) {6.1\% \textcolor{tred}{31.2\%}};
\node[font=\fs{8}] at (157,161) {15.4\% \textcolor{tred}{6.7\%}};
\node[font=\fs{8}] at (207,171) {7.9\% \textcolor{tred}{14.2\%}};
\node[font=\fs{8}] at (250,161) {5.4\% \textcolor{tred}{9.3\%}};
\node[font=\fs{8}] at (298,171) {3.0\% \textcolor{tred}{12.1\%}};
\node[font=\fs{8}] at (344,161) {3.5\% \textcolor{tred}{12.0\%}};
% B
\node[rotate=90,font=\fs{11.5}] at (708,90) {Log\textsubscript{2} Fold Change over control};
% C
\node[font=\fs{15}] at (167,220) {TAM control};
\node[font=\fs{15},text=tred] at (404,220) {TAM CSF1Ri+CD40};
% D
\node[rotate=-90,font=\fs{7.5}] at (338,499) {Fraction of cells secreting (\%)};
\draw[-latex,black,line width=0.8pt] (182,582) -- (106,582);
\draw[-latex,black,line width=0.8pt] (213,582) -- (297,582);
\node[font=\fs{11}] at (132.7,594) {M2-like};
\node[font=\fs{11}] at (270,594) {M1-like};
% E
\fill[black] (453,436.5) rectangle (462,444);
\fill[fred] (453,448.5) rectangle (462,456);
\node[anchor=west,inner sep=0pt,font=\fs{10.6}] at (467,440.5) {TAM control};
\node[anchor=west,inner sep=0pt,font=\fs{10.6}] at (467,452.5) {TAM CSF1Ri+CD40};
% F
\draw[gray,line width=0.8pt] (664,466.7) -- (721,466.7);
\node[font=\fs{10}] at (692.5,463.5) {*};
\node[rotate=90,font=\fs{12},align=center] at (606,508) {\fontsize{12}{15}\selectfont Fraction of\\TNFα\textsuperscript{+}IL-6\textsuperscript{+}IL-12\textsuperscript{+} cells (\%)};
% G
\node[font=\fs{14.6}] at (133,641.7) {TAM control};
\node[font=\fs{14.6},text=tred] at (275,641.7) {TAM CSF1Ri+CD40};
\node[font=\fs{14.6}] at (451.7,641.7) {TAM control};
\node[font=\fs{14.6},text=tred] at (593,641.7) {TAM CSF1Ri+CD40};
\node[anchor=east,inner sep=0pt,font=\fs{12.7}] at (72.7,705.7) {Chi3l3};
\node[anchor=east,inner sep=0pt,font=\fs{12.7}] at (72.7,815) {MMP-9};
\node[anchor=east,inner sep=0pt,font=\fs{12.7}] at (72.7,924) {CCL3};
\node[anchor=east,inner sep=0pt,font=\fs{12.7}] at (391.7,705.7) {TNFα};
\node[anchor=east,inner sep=0pt,font=\fs{12.7}] at (391.7,815) {IL-6};
\node[anchor=east,inner sep=0pt,font=\fs{12.7}] at (391.7,924) {IL-12};
\node[font=\fs{12.8}] at (720,674) {High\, secretion};
\node[font=\fs{12.8}] at (720,958.5) {No secretion};
\end{scope}
\end{tikzpicture}
\end{document}
